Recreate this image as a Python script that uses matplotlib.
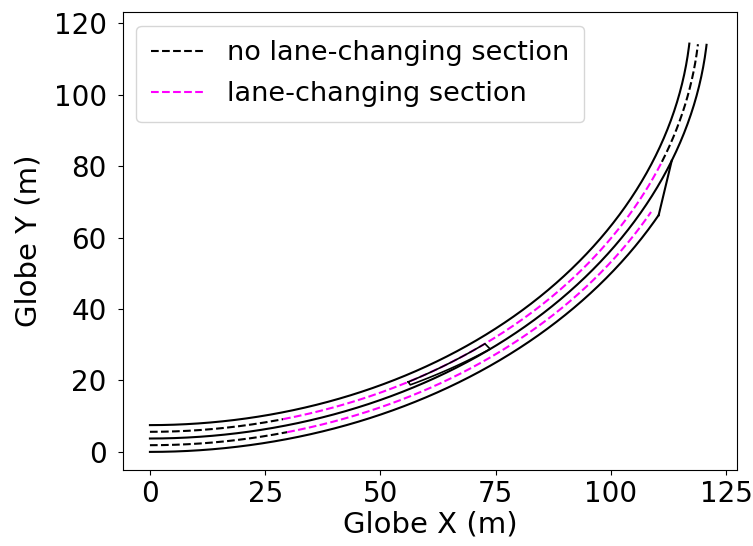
import numpy as np
import matplotlib
matplotlib.use('Agg')
import matplotlib.pyplot as plt

# road geometry (arcs around one centre, angles in degrees)
ARC_CENTER = [0.0, 125.0]
OUTER_EDGE_R = 125.0
OUTER_LANE_R = 123.125
DIVIDER_R = 121.25
INNER_LANE_R = 119.375
INNER_EDGE_R = 117.5

ROAD_END = 84.8            # where the remaining lane stops at the top
CHANGE_START = 14.0        # lane-changing section starts (x ~ 30 m)
INNER_CHANGE_END = 68.5
OUTER_CHANGE_END = 62.0
TAPER_ANGLES = [62.0, 69.0]    # outer edge leaves its arc and meets the divider

# thin wedge between inner lane centre and divider
ISLAND_ANGLES = [28.0, 37.5]
ISLAND_LOW_R = [120.3, 121.25]

LABELS = ['no lane-changing section', 'lane-changing section']
COLORS = ['black', 'magenta']


def arc(r, a0, a1, n=200):
    t = np.radians(np.linspace(a0, a1, n))
    r = np.linspace(r[0], r[1], n) if np.ndim(r) else r
    return ARC_CENTER[0] + r * np.sin(t), ARC_CENTER[1] - r * np.cos(t)


def point(r, a):
    t = np.radians(a)
    return ARC_CENTER[0] + r * np.sin(t), ARC_CENTER[1] - r * np.cos(t)


fig = plt.figure(figsize=(7.53, 5.46), dpi=100)
ax = fig.add_axes([0.163, 0.139, 0.816, 0.839])

lw = 1.5

# solid edges and divider
ax.plot(*arc(INNER_EDGE_R, 0, ROAD_END), color='black', lw=lw)
ax.plot(*arc(DIVIDER_R, 0, ROAD_END), color='black', lw=lw)
ax.plot(*arc(OUTER_EDGE_R, 0, TAPER_ANGLES[0]), color='black', lw=lw)
p0 = point(OUTER_EDGE_R, TAPER_ANGLES[0])
p1 = point(DIVIDER_R, TAPER_ANGLES[1])
ax.plot([p0[0], p1[0]], [p0[1], p1[1]], color='black', lw=lw)

# lane centre lines
h1, = ax.plot(*arc(OUTER_LANE_R, 0, CHANGE_START), '--', color=COLORS[0], lw=lw, label=LABELS[0])
ax.plot(*arc(INNER_LANE_R, 0, CHANGE_START), '--', color=COLORS[0], lw=lw)
ax.plot(*arc(INNER_LANE_R, INNER_CHANGE_END, ROAD_END), '--', color=COLORS[0], lw=lw)
h2, = ax.plot(*arc(OUTER_LANE_R, CHANGE_START, OUTER_CHANGE_END), '--', color=COLORS[1], lw=lw, label=LABELS[1])
ax.plot(*arc(INNER_LANE_R, CHANGE_START, INNER_CHANGE_END), '--', color=COLORS[1], lw=lw)

# small island
ux, uy = arc(INNER_LANE_R, ISLAND_ANGLES[0], ISLAND_ANGLES[1], 60)
lx, ly = arc(ISLAND_LOW_R[::-1], ISLAND_ANGLES[1], ISLAND_ANGLES[0], 60)
ax.plot(np.r_[ux, lx, ux[:1]], np.r_[uy, ly, uy[:1]], color='black', lw=1.2, zorder=3)

ax.set_xlim(-5.9, 127.4)
ax.set_ylim(-5.1, 123.2)
ax.set_xticks([0, 25, 50, 75, 100, 125])
ax.set_yticks([0, 20, 40, 60, 80, 100, 120])
ax.tick_params(labelsize=20)
ax.tick_params(axis='y', pad=8)
ax.set_xlabel('Globe X (m)', fontsize=21, labelpad=2)
ax.set_ylabel('Globe Y (m)', fontsize=21, labelpad=8)
ax.legend(handles=[h1, h2], loc='upper left', fontsize=19.5,
          borderpad=0.55, labelspacing=0.55)

plt.savefig('out.png', dpi=100)
